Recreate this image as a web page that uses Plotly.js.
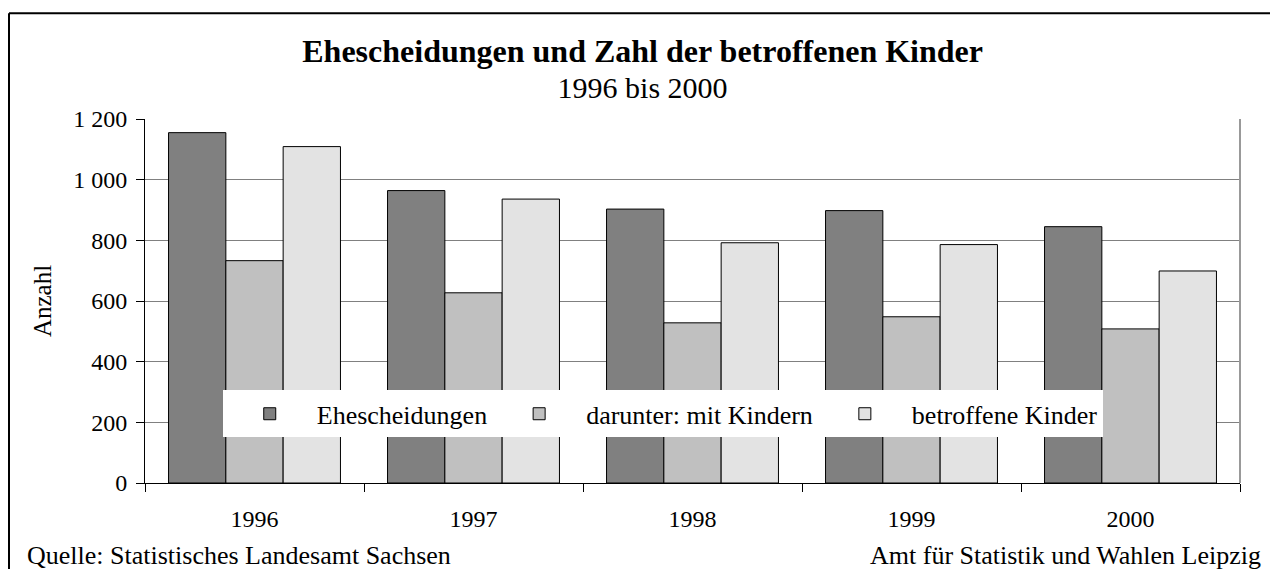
<!DOCTYPE html>
<html>
<head>
<meta charset="utf-8">
<script src="https://cdn.plot.ly/plotly-3.0.1.min.js"></script>
<style>html,body{margin:0;padding:0;background:#fff;}#chart{width:1270px;height:569px;}</style>
</head>
<body>
<div id="chart"></div>
<script>
const years = ["1996", "1997", "1998", "1999", "2000"];
const seriesNames = ["Ehescheidungen", "darunter: mit Kindern", "betroffene Kinder"];
const ehescheidungen = [1155, 964, 903, 898, 845];
const mitKindern = [733, 627, 528, 548, 508];
const betroffeneKinder = [1109, 936, 792, 786, 699];
const yTicks = [0, 200, 400, 600, 800, 1000, 1200];
const titleText = "Ehescheidungen und Zahl der betroffenen Kinder";
const subtitleText = "1996 bis 2000";
const yAxisTitle = "Anzahl";
const sourceLeft = "Quelle: Statistisches Landesamt Sachsen";
const sourceRight = "Amt für Statistik und Wahlen Leipzig";

const colors = ["#808080", "#c0c0c0", "#e3e3e3"];
const values = [ehescheidungen, mitKindern, betroffeneKinder];
const FONT = "Liberation Serif, Times New Roman, serif";

const traces = values.map((v, i) => ({
  type: "bar",
  name: seriesNames[i],
  x: years,
  y: v,
  marker: {color: colors[i], line: {color: "#000", width: 1}},
  hoverinfo: "x+y+name"
}));

const layout = {
  width: 1270, height: 569,
  margin: {l: 145, r: 30, t: 119, b: 86},
  paper_bgcolor: "#fff", plot_bgcolor: "#fff",
  font: {family: FONT, size: 24, color: "#000"},
  separators: ", ",
  barmode: "group", bargap: 0.215, bargroupgap: 0,
  showlegend: true,
  title: {
    text: "<span style=\"font-size:32px\"><b>" + titleText + "</b></span><br><span style=\"font-size:30px\">" + subtitleText + "</span>",
    font: {family: FONT, size: 28, color: "#000"},
    x: 0.506, xanchor: "center", xref: "container",
    y: 0.891, yanchor: "middle", yref: "container"
  },
  xaxis: {
    type: "category",
    showline: true, linecolor: "#000", linewidth: 1,
    ticks: "outside", ticklen: 8, tickcolor: "#000", tickson: "boundaries",
    showgrid: false, zeroline: false,
    tickfont: {family: FONT, size: 24, color: "#000"},
    ticklabelstandoff: 14
  },
  yaxis: {
    range: [0, 1200], tickvals: yTicks, separatethousands: true,
    showline: true, linecolor: "#000", linewidth: 1,
    ticks: "outside", ticklen: 8, tickcolor: "#000",
    showgrid: true, gridcolor: "#808080", gridwidth: 1,
    zeroline: false,
    tickfont: {family: FONT, size: 24, color: "#000"},
    ticklabelstandoff: 4,
    title: {text: yAxisTitle, font: {family: FONT, size: 25, color: "#000"}, standoff: 14}
  },
  legend: {
    orientation: "h",
    x: 0.071, xanchor: "left", y: 0.19, yanchor: "middle",
    bgcolor: "#fff", borderwidth: 0,
    font: {family: FONT, size: 26, color: "#000"},
    itemwidth: 84,
    traceorder: "normal"
  },
  shapes: [
    {type: "line", xref: "paper", yref: "paper", x0: 1, x1: 1, y0: 0, y1: 1, line: {color: "#999", width: 2}},
    {type: "line", xref: "paper", yref: "paper", x0: -0.1242, x1: -0.1242, y0: -0.3, y1: 1.2906, line: {color: "#000", width: 2}},
    {type: "line", xref: "paper", yref: "paper", x0: -0.1242, x1: 1.05, y0: 1.2906, y1: 1.2906, line: {color: "#000", width: 2}}
  ],
  annotations: [
    {text: sourceLeft, xref: "paper", yref: "paper", x: -0.1096, xanchor: "left", y: -0.2005, yanchor: "middle", showarrow: false, font: {family: FONT, size: 26, color: "#000"}},
    {text: sourceRight, xref: "paper", yref: "paper", x: 1.021, xanchor: "right", y: -0.2005, yanchor: "middle", showarrow: false, font: {family: FONT, size: 26, color: "#000"}}
  ]
};

Plotly.newPlot("chart", traces, layout, {displayModeBar: false});
</script>
</body>
</html>
